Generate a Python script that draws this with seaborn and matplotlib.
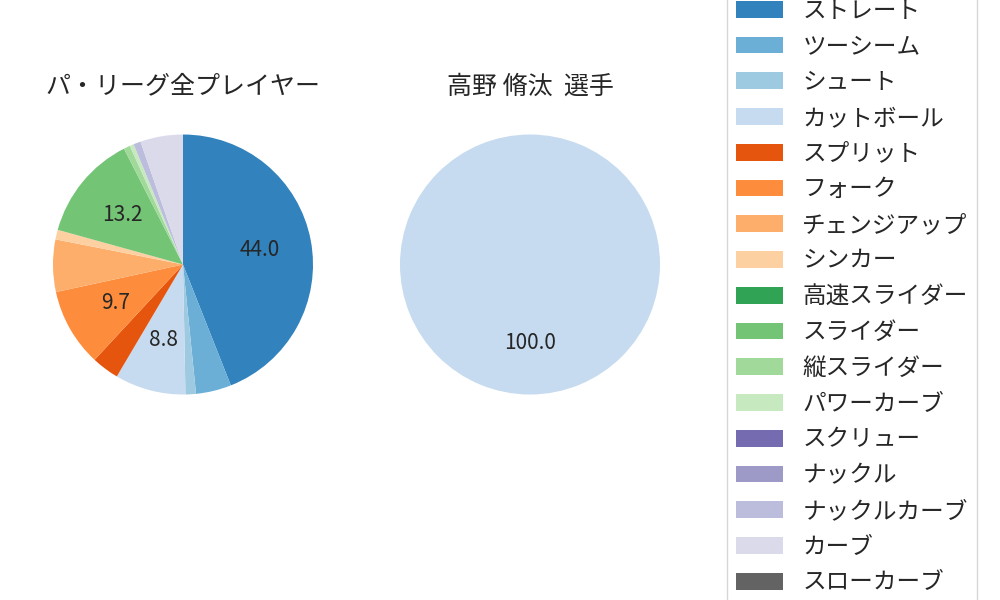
import matplotlib
matplotlib.use("Agg")
import matplotlib.pyplot as plt
from matplotlib.patches import Patch
import seaborn as sns

sns.set_theme(style="white")
plt.rcParams['font.family'] = ['Noto Sans CJK JP', 'DejaVu Sans']

# 球種
pitch_types = ["ストレート", "ツーシーム", "シュート", "カットボール", "スプリット", "フォーク",
               "チェンジアップ", "シンカー", "高速スライダー", "スライダー", "縦スライダー",
               "パワーカーブ", "スクリュー", "ナックル", "ナックルカーブ", "カーブ", "スローカーブ"]
# 割合 (%)
league_pct = [44.0, 4.4, 1.3, 8.8, 3.4, 9.7, 6.5, 1.2, 0.0, 13.2, 0.8, 0.5, 0.0, 0.0, 0.9, 5.3, 0.0]
player_pct = [0.0, 0.0, 0.0, 100.0, 0.0, 0.0, 0.0, 0.0, 0.0, 0.0, 0.0, 0.0, 0.0, 0.0, 0.0, 0.0, 0.0]

titles = ["パ・リーグ全プレイヤー", "高野 脩汰  選手"]

colors = sns.color_palette("tab20c", 20)[:len(pitch_types)]

fig = plt.figure(figsize=(10, 6), dpi=100)
ax1 = fig.add_axes([0.0205, 0.2883, 0.325, 0.5417])
ax2 = fig.add_axes([0.3675, 0.2883, 0.325, 0.5417])


def pct_label(p):
    return f"{p:.1f}" if p > 7 else ""


for ax, vals, title in zip([ax1, ax2], [league_pct, player_pct], titles):
    ax.pie(vals, colors=colors, startangle=90, counterclock=False,
           autopct=pct_label, pctdistance=0.6, textprops={'fontsize': 15},
           wedgeprops={'linewidth': 0, 'edgecolor': 'none'})
    ax.set_title(title, fontsize=18)

handles = [Patch(facecolor=c, edgecolor='none', label=l) for c, l in zip(colors, pitch_types)]
fig.legend(handles=handles, loc='center left', bbox_to_anchor=(0.715, 0.505),
           fontsize=17, labelspacing=0.54, frameon=True)

fig.savefig("out.png", dpi=100)
